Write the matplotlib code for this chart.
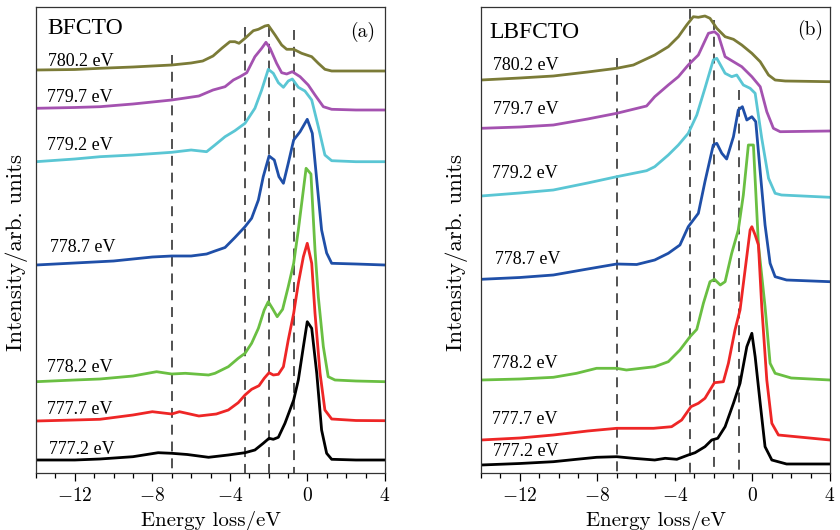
import matplotlib
matplotlib.use("Agg")
import matplotlib.pyplot as plt
import numpy as np

# ---------------- data (x: energy loss in eV, y: plotted height,
# measured downward from the top of the panel -> y axis is inverted) ----------------
labels = ["780.2 eV", "779.7 eV", "779.2 eV", "778.7 eV", "778.2 eV", "777.7 eV", "777.2 eV"]
colors = ["#7b7b37", "#a452b0", "#5ac6d4", "#1f4fa8", "#6abf42", "#ee2626", "#000000"]

# panel (a) BFCTO
a_7802_x = [-14, -12, -10.7, -9, -7, -6, -5.4, -4.87, -4.4, -4.0, -3.74, -3.53, -3.22, -2.79, -2.53, -2.19, -2.02, -1.67, -1.33, -1.07, -0.71, -0.30, 0.22, 0.56, 0.9, 1.25, 2.5, 4]
a_7802_y = [70, 69.5, 68.3, 67, 65, 63, 61, 56, 48, 41.7, 41.7, 43.3, 38.3, 30.7, 29.3, 26, 25.3, 35, 45, 49.3, 49.3, 53.3, 56.7, 63.3, 69.3, 71, 71, 71]
a_7797_x = [-14, -12, -10.7, -9, -7, -5.6, -4.87, -4.25, -3.82, -3.48, -3.13, -2.71, -2.36, -2.14, -1.93, -1.59, -1.33, -1.07, -0.78, -0.38, 0.04, 0.39, 0.82, 1.25, 2.5, 4]
a_7797_y = [108.3, 107.5, 106.7, 104, 100, 96, 90, 86.7, 80, 76.7, 72.7, 56.7, 48.3, 42.3, 48.3, 63.3, 72.7, 74, 71.7, 76.7, 85, 95, 106.7, 109.3, 110, 110]
a_7792_x = [-14, -12, -10.7, -9, -7, -6, -5.2, -4.77, -4.25, -3.74, -3.22, -2.71, -2.36, -2.02, -1.76, -1.5, -1.24, -0.99, -0.78, -0.47, -0.13, 0.22, 0.56, 0.9, 1.25, 2.5, 4]
a_7792_y = [161.7, 159, 156.7, 155, 152.3, 150, 151.7, 145, 136.7, 130.7, 123.3, 108.3, 90, 69.3, 73.3, 82.7, 87.3, 81, 79, 87.3, 91, 100, 126.7, 155, 160.7, 161.7, 161.7]
a_7787_x = [-14, -12, -10, -8, -7, -6, -5.2, -4.77, -4.25, -3.74, -3.22, -2.88, -2.53, -2.28, -1.98, -1.71, -1.47, -1.24, -0.99, -0.71, -0.38, -0.01, 0.25, 0.48, 0.73, 0.99, 1.25, 2.5, 4]
a_7787_y = [265, 263, 261, 257, 256, 256, 254, 251, 247.5, 237.5, 226.7, 218.3, 200, 176.7, 156, 160, 176.7, 183.3, 163.3, 140, 131.7, 119.3, 133.3, 180, 230, 253, 263.3, 264, 265]
a_7782_x = [-14, -12, -10.7, -9, -7.78, -7, -6.3, -5.1, -4.77, -4.08, -3.57, -3.22, -2.88, -2.53, -2.23, -2.02, -1.81, -1.56, -1.28, -0.99, -0.71, -0.47, -0.07, 0.18, 0.39, 0.56, 0.82, 1.07, 1.42, 2.5, 4]
a_7782_y = [381.7, 380, 379, 376, 371.7, 374, 373.3, 375, 373.3, 366.7, 358.3, 353.3, 343.3, 328.3, 310, 301.7, 308.3, 316.7, 309.3, 286.7, 263.3, 230, 168.3, 174, 250, 296.7, 346.7, 376.7, 380, 381, 381.7]
a_7777_x = [-14, -12, -10.7, -9, -8.0, -7, -6.6, -5.6, -4.7, -4.08, -3.57, -3.22, -2.88, -2.5, -2.23, -1.98, -1.76, -1.5, -1.24, -0.99, -0.71, -0.47, -0.21, -0.01, 0.22, 0.39, 0.65, 0.9, 1.25, 2.5, 4]
a_7777_y = [421, 420, 419.3, 415, 411.7, 414, 411.7, 416, 414, 410, 402.7, 395, 389.3, 385.7, 378.3, 372.7, 375, 374.3, 366.7, 340, 313.3, 283.3, 256.7, 243.3, 263.3, 313.3, 373.3, 410, 419, 420.5, 420.7]
a_7772_x = [-14, -12, -10.7, -9, -7.7, -7, -6.2, -5.1, -4.08, -3.22, -2.71, -2.28, -1.98, -1.76, -1.5, -1.16, -0.71, -0.47, -0.21, -0.01, 0.22, 0.48, 0.73, 0.99, 1.25, 2.5, 4]
a_7772_y = [460, 460, 459, 456.7, 452.7, 453.3, 454.5, 457.3, 455, 452.7, 450, 443.3, 438.3, 439.3, 437.3, 423.3, 400, 380, 346.7, 321.7, 328.3, 373.3, 430, 453.3, 459.3, 460, 460]

# panel (b) LBFCTO
b_7802_x = [-14, -12, -10.27, -8.5, -7, -6.14, -5.04, -4.34, -3.82, -3.39, -3.05, -2.79, -2.45, -2.19, -1.84, -1.41, -0.98, -0.55, -0.03, 0.40, 0.83, 1.17, 1.69, 4]
b_7802_y = [80, 78, 76, 72, 68.3, 65, 55, 46.7, 36.7, 25, 16.7, 17.3, 16, 18.3, 28.3, 36.7, 39.3, 45, 53.3, 61.7, 75, 80, 81, 81.7]
b_7797_x = [-14, -12, -10.27, -8.5, -7, -5.46, -5.04, -4.34, -3.82, -3.31, -2.79, -2.27, -1.96, -1.76, -1.41, -0.98, -0.55, -0.03, 0.40, 0.74, 1.08, 1.43, 4]
b_7797_y = [128.3, 127, 125, 119, 113.3, 106, 96.7, 85, 76.7, 65, 55, 33.3, 31.7, 35, 56.7, 61.7, 66.7, 76.7, 86.7, 111.7, 128.3, 131.7, 131]
b_7792_x = [-14, -12, -10.27, -8.5, -7, -5.46, -5.04, -4.34, -3.82, -3.31, -2.87, -2.45, -2.02, -1.84, -1.41, -1.07, -0.81, -0.47, -0.12, 0.14, 0.48, 0.83, 1.17, 1.5, 4]
b_7792_y = [196, 193, 190, 183, 176.7, 170.7, 166.7, 155, 145, 133.3, 115, 88.3, 60, 58.3, 73.3, 76.7, 75, 85, 88.3, 93.3, 138.3, 178.3, 193.3, 195, 197.3]
b_7787_x = [-14, -12, -10.27, -8.5, -7, -5.97, -5.04, -4.34, -3.74, -3.31, -2.79, -2.45, -2.02, -1.84, -1.58, -1.33, -0.98, -0.73, -0.52, -0.29, -0.03, 0.17, 0.40, 0.65, 0.91, 1.17, 1.76, 4]
b_7787_y = [279.3, 277.5, 275, 269, 264, 264.5, 260, 253.3, 245, 226.7, 213.3, 181.7, 145, 143.3, 153.3, 159, 136.7, 110, 106.7, 120, 116.7, 121.7, 171.7, 225, 263.3, 276.7, 280, 281.7]
b_7782_x = [-14, -12, -10.27, -9.07, -8.04, -7, -6.5, -5.04, -4.34, -3.74, -3.22, -2.87, -2.53, -2.19, -1.96, -1.66, -1.41, -1.07, -0.73, -0.47, -0.21, 0.05, 0.31, 0.65, 0.91, 1.17, 2, 4]
b_7782_y = [380, 379, 377.3, 373.3, 368.3, 368.3, 370, 366.7, 361.7, 350, 336.7, 329.3, 303.3, 281.7, 279.3, 285, 281.7, 253.3, 230, 195, 145, 145, 245, 306.7, 363.3, 373.3, 378, 380]
b_7777_x = [-14, -12, -10.27, -8.5, -7, -5.1, -4.17, -3.65, -3.17, -2.79, -2.45, -2.19, -1.96, -1.50, -1.24, -0.90, -0.64, -0.38, -0.12, -0.03, 0.14, 0.31, 0.48, 0.74, 1.0, 1.34, 4]
b_7777_y = [440, 438, 435, 431, 428.3, 428.3, 426.7, 420, 406.7, 403.3, 398.3, 390, 382.7, 381.7, 363.3, 330, 310, 270, 230, 226.7, 235, 245, 306.7, 380, 423.3, 435, 440]
b_7772_x = [-14, -12, -10.27, -9.07, -8.04, -7, -6.14, -5.04, -4.5, -3.9, -3.31, -2.96, -2.45, -2.1, -1.79, -1.41, -0.98, -0.64, -0.29, -0.03, 0.14, 0.40, 0.65, 1.0, 1.76, 4]
b_7772_y = [465, 463.5, 461.7, 459.3, 457.3, 456.7, 458.3, 460, 458.3, 459.3, 455, 452.7, 446.7, 440, 438.3, 426.7, 403.3, 383.3, 346.7, 333.3, 356.7, 403.3, 446.7, 460, 464, 464]

dash_x = [-7, -3.2, -2.0, -0.7]
a_dash_top = [55, 27, 27, 30]
b_dash_top = [58, 9, 20, 90]

xticks = [-12, -8, -4, 0, 4]

# ---------------- style ----------------
plt.rcParams['font.family'] = 'cmr10'
plt.rcParams['mathtext.fontset'] = 'cm'
plt.rcParams['axes.formatter.use_mathtext'] = True

fig = plt.figure(figsize=(8.4, 5.3), dpi=100)
ax_a = fig.add_axes([36/840, 57/530, 349/840, 466/530])
ax_b = fig.add_axes([481/840, 57/530, 349/840, 466/530])

panels = [
    (ax_a, "BFCTO", "(a)",
     [(a_7802_x, a_7802_y), (a_7797_x, a_7797_y), (a_7792_x, a_7792_y), (a_7787_x, a_7787_y),
      (a_7782_x, a_7782_y), (a_7777_x, a_7777_y), (a_7772_x, a_7772_y)],
     a_dash_top,
     [(-13.38, 62), (-13.43, 97), (-13.43, 145), (-13.28, 248), (-13.43, 368), (-13.43, 410), (-13.33, 450)],
     (-13.43, 28), (3.48, 32), -0.0237),
    (ax_b, "LBFCTO", "(b)",
     [(b_7802_x, b_7802_y), (b_7797_x, b_7797_y), (b_7792_x, b_7792_y), (b_7787_x, b_7787_y),
      (b_7782_x, b_7782_y), (b_7777_x, b_7777_y), (b_7772_x, b_7772_y)],
     b_dash_top,
     [(-13.4, 65), (-13.4, 110), (-13.45, 173), (-13.29, 260), (-13.45, 363), (-13.45, 420), (-13.4, 452)],
     (-13.55, 32), (3.65, 30), -0.038),
]

for ax, name, tag, curves, dtop, lpos, npos, tpos, ylab_x in panels:
    for xt, top in zip(dash_x, dtop):
        ax.plot([xt, xt], [top, 473], color="#222222", lw=1.1, ls=(0, (6.5, 4.5)), zorder=1)
    for (cx, cy), col in zip(curves, colors):
        ax.plot(cx, cy, color=col, lw=2.0, solid_joinstyle='round', zorder=2)
    for (lx, ly), lab in zip(lpos, labels):
        ax.text(lx, ly, lab, family='Liberation Serif', fontsize=13, ha='left', va='center')
    ax.text(npos[0], npos[1], name, family='Liberation Serif', fontsize=17, ha='left', va='center')
    ax.text(tpos[0], tpos[1], tag, fontsize=14, ha='right', va='center')

    ax.set_xlim(-14, 4)
    ax.set_ylim(473, 7)
    ax.set_xticks(xticks)
    ax.set_xticks(np.arange(-14, 5, 1), minor=True)
    ax.set_yticks([])
    ax.tick_params(axis='x', which='major', direction='out', length=6, width=0.9, labelsize=14, pad=4)
    ax.tick_params(axis='x', which='minor', direction='out', length=3.5, width=0.9)
    for sp in ax.spines.values():
        sp.set_linewidth(0.9)
        sp.set_color('#333333')
    ax.set_xlabel("Energy loss/eV", fontsize=15)
    ax.set_ylabel("Intensity/arb. units", fontsize=16.5)
    ax.yaxis.set_label_coords(ylab_x, 0.473)
    ax.xaxis.set_label_coords(0.5, -0.0815)

fig.savefig("out.png", dpi=100)
